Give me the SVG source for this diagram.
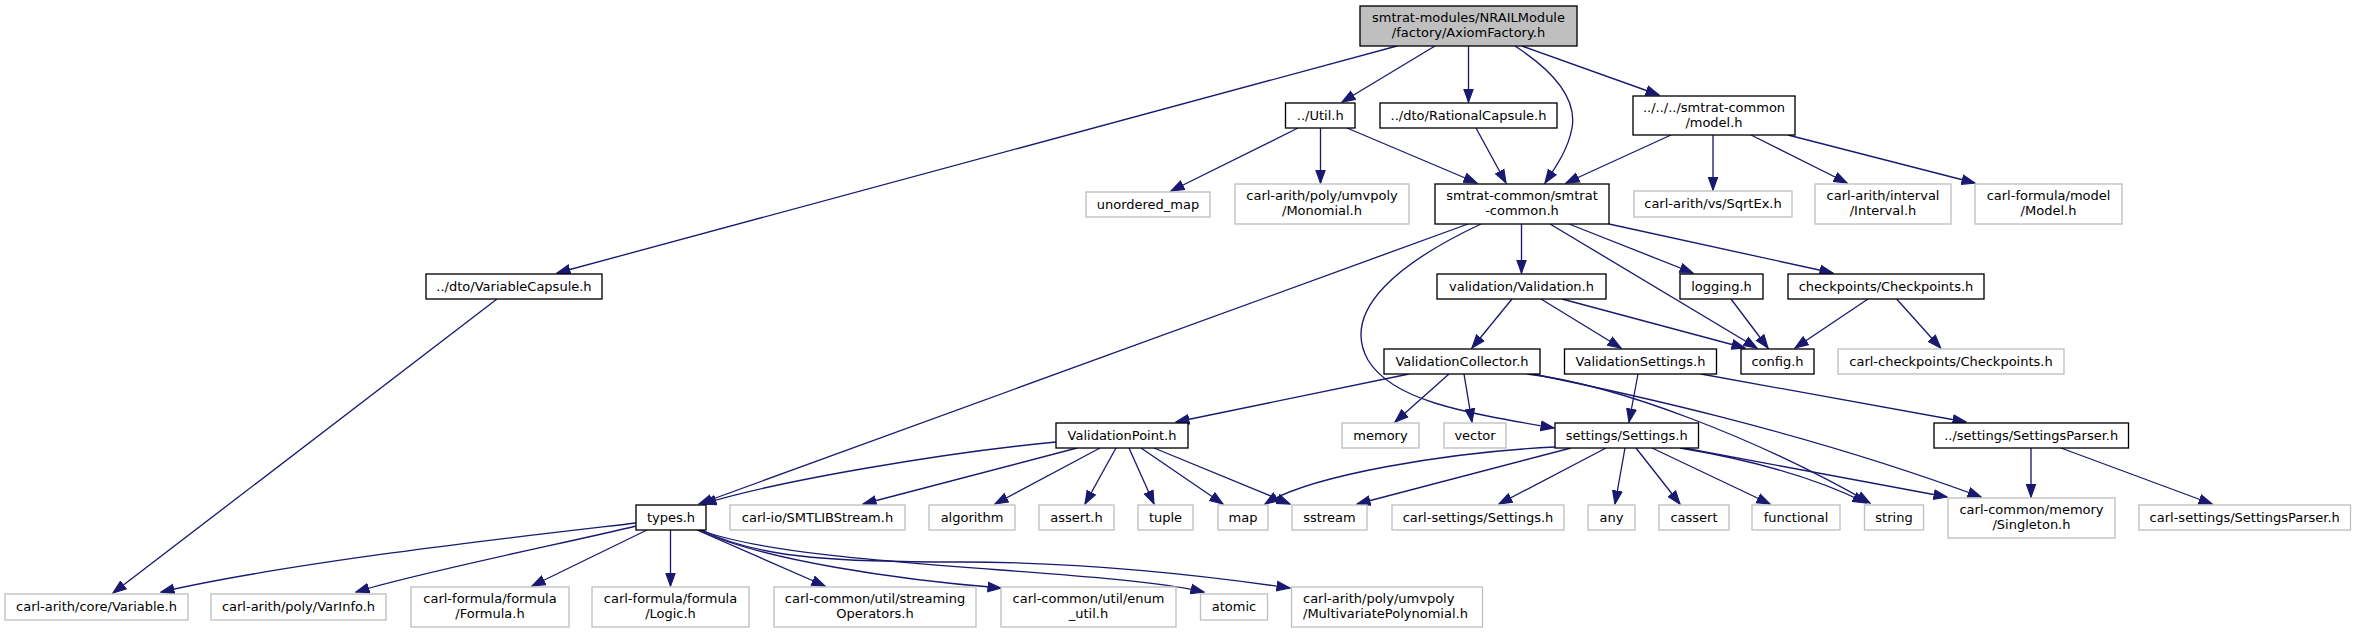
<svg xmlns="http://www.w3.org/2000/svg" width="2355" height="633" viewBox="0 0 2355 633">
<style>
rect{fill:#fff;stroke:#000;stroke-width:1.33}
.g rect{stroke:#bfbfbf}
.r rect{fill:#bfbfbf}
text{font-family:"DejaVu Sans",sans-serif;font-size:13px;text-anchor:middle;fill:#000}
.e path{fill:none;stroke:#191970;stroke-width:1.33;marker-end:url(#a)}
</style>
<defs>
<marker id="a" markerUnits="userSpaceOnUse" markerWidth="15" markerHeight="12" refX="13.5" refY="6" orient="auto" viewBox="0 0 15 12"><path d="M0.5,1.3 L13.5,6 L0.5,10.7 z" fill="#191970" stroke="#191970" stroke-width="1.2"/></marker>
</defs>
<rect x="0" y="0" width="2355" height="633" style="fill:#fff;stroke:none"/>
<g class="e" id="edges">
<path d="M1397,46 L557,273"/>
<path d="M1435,46 L1342,102"/>
<path d="M1468.5,46 L1468.5,102"/>
<path d="M1515,46 C1555,72 1577,100 1572,128 C1568,150 1555,168 1545,183"/>
<path d="M1522,46 L1659,95"/>
<path d="M1298,128 L1171,191"/>
<path d="M1320.5,128 L1320.5,183"/>
<path d="M1347,128 L1477,183"/>
<path d="M1476,128 L1506,183"/>
<path d="M1671,135 L1566,183"/>
<path d="M1713,135 L1713,190"/>
<path d="M1751,135 L1847,183"/>
<path d="M1788,135 L1975,183"/>
<path d="M497,299 L113,593"/>
<path d="M1468,224 L699,504"/>
<path d="M1481,224 C1400,262 1340,310 1368,360 C1392,400 1460,412 1554,428"/>
<path d="M1521.5,224 L1521.5,273"/>
<path d="M1550,224 L1757,348"/>
<path d="M1569,224 L1693,273"/>
<path d="M1609,224 L1833,273"/>
<path d="M1512,299 L1472,348"/>
<path d="M1541,299 L1621,348"/>
<path d="M1562,299 L1745,348"/>
<path d="M1731,299 L1768,348"/>
<path d="M1868,299 L1795,348"/>
<path d="M1896.6,299 L1940.6,348"/>
<path d="M1409,374 L1176,422"/>
<path d="M1449,374 L1395,422"/>
<path d="M1464,374 L1472,422"/>
<path d="M1527,374 C1620,385 1760,440 1870,503"/>
<path d="M1533,374 C1620,392 1800,430 1981,497"/>
<path d="M1638,374 L1629,422"/>
<path d="M1701,374 L1966,422"/>
<path d="M1056,442 C950,452 780,480 703,504"/>
<path d="M1077,448 L863,504"/>
<path d="M1100,448 L995,504"/>
<path d="M1116,448 L1085,504"/>
<path d="M1129,448 L1154,504"/>
<path d="M1141,448 L1223,504"/>
<path d="M1154,448 L1290,504"/>
<path d="M1555,447 C1450,452 1310,475 1265,504"/>
<path d="M1571,448 L1357,504"/>
<path d="M1606,448 L1499,504"/>
<path d="M1625,448 L1615,504"/>
<path d="M1636,448 L1680,504"/>
<path d="M1652,448 L1770,504"/>
<path d="M1680,448 C1740,458 1810,475 1866,503"/>
<path d="M1684,448 L1947,497"/>
<path d="M2031,448 L2031,497"/>
<path d="M2061,448 L2212,504"/>
<path d="M636,523 C560,532 300,560 161,592"/>
<path d="M636,526 C580,540 420,572 356,592"/>
<path d="M647,530 L532,586"/>
<path d="M670.5,530 L670.5,586"/>
<path d="M697,530 L825,586"/>
<path d="M699,530 C760,560 900,580 1001,588"/>
<path d="M702,530 C760,560 850,562 960,562 C1080,562 1200,575 1290,588"/>
<path d="M700,530 C800,568 1100,568 1204,592"/>
</g>
<g id="n0" class="r"><rect x="1360" y="6" width="217" height="40"/><text x="1468.5" y="21.7">smtrat-modules/NRAILModule</text><text x="1468.5" y="36.7">/factory/AxiomFactory.h</text></g>
<g id="n1"><rect x="426" y="274" width="176" height="25"/><text x="514" y="290.5">../dto/VariableCapsule.h</text></g>
<g id="n2"><rect x="1285.5" y="103" width="69.5" height="25"/><text x="1320.2" y="119.5">../Util.h</text></g>
<g id="n3"><rect x="1380" y="103" width="177" height="25"/><text x="1468.5" y="119.5">../dto/RationalCapsule.h</text></g>
<g id="n4"><rect x="1435" y="184" width="174" height="40"/><text x="1522" y="199.7">smtrat-common/smtrat</text><text x="1522" y="214.7">-common.h</text></g>
<g id="n5"><rect x="1633" y="96" width="162" height="39"/><text x="1714" y="111.7">../../../smtrat-common</text><text x="1714" y="126.7">/model.h</text></g>
<g id="n6" class="g"><rect x="1086" y="192" width="124" height="25"/><text x="1148" y="208.5">unordered_map</text></g>
<g id="n7" class="g"><rect x="1235" y="184" width="174" height="40"/><text x="1322" y="199.7">carl-arith/poly/umvpoly</text><text x="1322" y="214.7">/Monomial.h</text></g>
<g id="n8" class="g"><rect x="1634" y="191" width="158" height="26"/><text x="1713" y="207.5">carl-arith/vs/SqrtEx.h</text></g>
<g id="n9" class="g"><rect x="1815" y="184" width="136" height="40"/><text x="1883" y="199.7">carl-arith/interval</text><text x="1883" y="214.7">/Interval.h</text></g>
<g id="n10" class="g"><rect x="1975" y="184" width="147" height="40"/><text x="2048.5" y="199.7">carl-formula/model</text><text x="2048.5" y="214.7">/Model.h</text></g>
<g id="n11"><rect x="1437" y="274" width="169" height="25"/><text x="1521.5" y="290.5">validation/Validation.h</text></g>
<g id="n12"><rect x="1680" y="274" width="83" height="25"/><text x="1721.5" y="290.5">logging.h</text></g>
<g id="n13"><rect x="1788" y="274" width="196" height="25"/><text x="1886" y="290.5">checkpoints/Checkpoints.h</text></g>
<g id="n14"><rect x="1384" y="349" width="156" height="25"/><text x="1462" y="365.5">ValidationCollector.h</text></g>
<g id="n15"><rect x="1564.5" y="349" width="152" height="25"/><text x="1640.5" y="365.5">ValidationSettings.h</text></g>
<g id="n16"><rect x="1741" y="349" width="73" height="25"/><text x="1777.5" y="365.5">config.h</text></g>
<g id="n17" class="g"><rect x="1838" y="349" width="226" height="25"/><text x="1951" y="365.5">carl-checkpoints/Checkpoints.h</text></g>
<g id="n18"><rect x="1056" y="423" width="132" height="25"/><text x="1122" y="439.5">ValidationPoint.h</text></g>
<g id="n19" class="g"><rect x="1342" y="423" width="77" height="25"/><text x="1380.5" y="439.5">memory</text></g>
<g id="n20" class="g"><rect x="1444" y="423" width="62" height="25"/><text x="1475" y="439.5">vector</text></g>
<g id="n21"><rect x="1555" y="423" width="143.5" height="25"/><text x="1626.7" y="439.5">settings/Settings.h</text></g>
<g id="n22"><rect x="1934" y="423" width="194.5" height="25"/><text x="2031.2" y="439.5">../settings/SettingsParser.h</text></g>
<g id="n23"><rect x="636" y="505" width="70" height="25"/><text x="671" y="521.5">types.h</text></g>
<g id="n24" class="g"><rect x="730" y="505" width="175" height="25"/><text x="817.5" y="521.5">carl-io/SMTLIBStream.h</text></g>
<g id="n25" class="g"><rect x="929" y="505" width="86" height="25"/><text x="972" y="521.5">algorithm</text></g>
<g id="n26" class="g"><rect x="1039" y="505" width="75" height="25"/><text x="1076.5" y="521.5">assert.h</text></g>
<g id="n27" class="g"><rect x="1138" y="505" width="55" height="25"/><text x="1165.5" y="521.5">tuple</text></g>
<g id="n28" class="g"><rect x="1218" y="505" width="50" height="25"/><text x="1243" y="521.5">map</text></g>
<g id="n29" class="g"><rect x="1292" y="505" width="75" height="25"/><text x="1329.5" y="521.5">sstream</text></g>
<g id="n30" class="g"><rect x="1392" y="505" width="172" height="25"/><text x="1478" y="521.5">carl-settings/Settings.h</text></g>
<g id="n31" class="g"><rect x="1588" y="505" width="47" height="25"/><text x="1611.5" y="521.5">any</text></g>
<g id="n32" class="g"><rect x="1659" y="505" width="70" height="25"/><text x="1694" y="521.5">cassert</text></g>
<g id="n33" class="g"><rect x="1752" y="505" width="88" height="25"/><text x="1796" y="521.5">functional</text></g>
<g id="n34" class="g"><rect x="1864.5" y="505" width="59" height="25"/><text x="1894" y="521.5">string</text></g>
<g id="n35" class="g"><rect x="1948" y="498" width="167" height="40"/><text x="2031.5" y="513.7">carl-common/memory</text><text x="2031.5" y="528.7">/Singleton.h</text></g>
<g id="n36" class="g"><rect x="2139" y="505" width="211.5" height="25"/><text x="2244.7" y="521.5">carl-settings/SettingsParser.h</text></g>
<g id="n37" class="g"><rect x="5" y="594" width="183" height="26"/><text x="96.5" y="611">carl-arith/core/Variable.h</text></g>
<g id="n38" class="g"><rect x="211" y="594" width="175" height="26"/><text x="298.5" y="611">carl-arith/poly/VarInfo.h</text></g>
<g id="n39" class="g"><rect x="411" y="587" width="158" height="40"/><text x="490" y="602.7">carl-formula/formula</text><text x="490" y="617.7">/Formula.h</text></g>
<g id="n40" class="g"><rect x="592" y="587" width="157" height="40"/><text x="670.5" y="602.7">carl-formula/formula</text><text x="670.5" y="617.7">/Logic.h</text></g>
<g id="n41" class="g"><rect x="774" y="587" width="202" height="40"/><text x="875" y="602.7">carl-common/util/streaming</text><text x="875" y="617.7">Operators.h</text></g>
<g id="n42" class="g"><rect x="1001" y="587" width="175" height="40"/><text x="1088.5" y="602.7">carl-common/util/enum</text><text x="1088.5" y="617.7">_util.h</text></g>
<g id="n43" class="g"><rect x="1200.5" y="594" width="67" height="26"/><text x="1234" y="611">atomic</text></g>
<g id="n44" class="g"><rect x="1291.5" y="587" width="191" height="40"/><text x="1303" y="602.7" style="text-anchor:start">carl-arith/poly/umvpoly</text><text x="1303" y="617.7" style="text-anchor:start">/MultivariatePolynomial.h</text></g>
</svg>
